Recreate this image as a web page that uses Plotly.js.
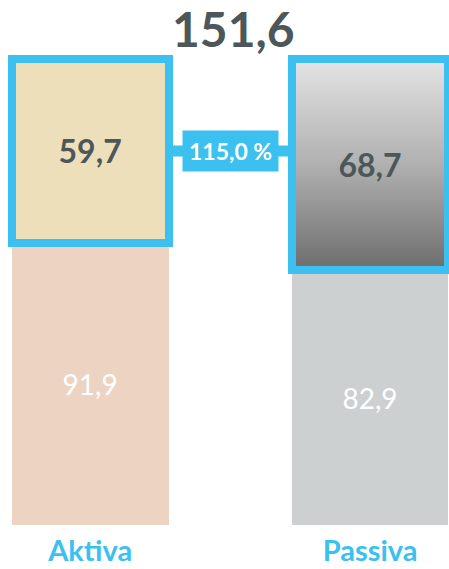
<!DOCTYPE html>
<html>
<head>
<meta charset="utf-8">
<script src="https://cdn.plot.ly/plotly-3.0.1.min.js"></script>
<style>html,body{margin:0;padding:0;background:#fff;}#chart{width:449px;height:569px;}</style>
</head>
<body>
<div id="chart"></div>
<script>
// ---- data ----
const categories = ["Aktiva", "Passiva"];
const bottomValues = [91.9, 82.9];
const topValues = [59.7, 68.7];
const totalLabel = 151.6;
const ratioLabel = "115,0 %";

// ---- styles ----
const blue = "#3BC0EF";
const dark = "#4D5759";
const bottomColors = ["#EDD3C1", "#CCD0D1"];
const topColors = ["#EDDFB9", "rgba(0,0,0,0)"];
const barWidth = 0.56;
const font = "Lato, 'Open Sans', sans-serif";

const xs = categories.map((c, i) => i);
const total = bottomValues[0] + topValues[0];

const gradSvg = '<svg xmlns="http://www.w3.org/2000/svg" width="10" height="100" preserveAspectRatio="none">' +
  '<defs><linearGradient id="g" x1="0" y1="0" x2="0" y2="1">' +
  '<stop offset="0" stop-color="#E4E4E4"/><stop offset="0.5" stop-color="#B0B0B0"/><stop offset="1" stop-color="#6D6D6D"/>' +
  '</linearGradient></defs><rect width="10" height="100" fill="url(#g)"/></svg>';
const gradUri = "data:image/svg+xml;base64," + btoa(gradSvg);

const traces = [
  {
    type: "bar", x: xs, y: bottomValues, width: barWidth,
    marker: {color: bottomColors, line: {width: 0}},
    texttemplate: "%{y:.1f}", textposition: "inside", insidetextanchor: "middle",
    textfont: {family: font, size: 28, color: "#FFFFFF"},
    hoverinfo: "none"
  },
  {
    type: "bar", x: xs, y: topValues, width: barWidth,
    marker: {color: topColors, line: {width: 8, color: blue}},
    texttemplate: "<b>%{y:.1f}</b>", textposition: "inside", insidetextanchor: "middle",
    textfont: {family: font, size: 32, color: dark},
    hoverinfo: "none"
  }
];

const connY = bottomValues[0] + topValues[0] / 2;

const layout = {
  width: 449, height: 569,
  margin: {l: 0, r: 0, t: 55, b: 44, pad: 0},
  paper_bgcolor: "#FFFFFF", plot_bgcolor: "#FFFFFF",
  barmode: "stack",
  separators: ",.",
  showlegend: false,
  xaxis: {
    range: [-0.322, 1.282], tickmode: "array", tickvals: xs, ticktext: categories,
    showgrid: false, zeroline: false, showline: false, ticks: "",
    tickfont: {family: font, size: 29, color: blue, weight: "bold"},
    ticklabelstandoff: 6, fixedrange: true
  },
  yaxis: {
    range: [0, 153], visible: false, showgrid: false, zeroline: false, fixedrange: true
  },
  images: [{
    source: gradUri, xref: "x", yref: "y",
    x: xs[1] - barWidth / 2, y: total, sizex: barWidth, sizey: topValues[1],
    xanchor: "left", yanchor: "top", sizing: "stretch", layer: "below"
  }],
  shapes: [{
    type: "line", xref: "x", yref: "y",
    x0: xs[0] + barWidth / 2, x1: xs[1] - barWidth / 2, y0: connY, y1: connY,
    line: {color: blue, width: 11}, layer: "above"
  }],
  annotations: [
    {
      xref: "x", yref: "y", x: 0.5, y: connY, showarrow: false,
      text: "<b>" + ratioLabel + "</b>", bgcolor: blue, borderpad: 6,
      font: {family: font, size: 23, color: "#FFFFFF"}
    },
    {
      xref: "x", yref: "y", x: 0.5, y: total, showarrow: false, yanchor: "middle",
      yshift: 31, xshift: 3,
      text: "<b>" + String(totalLabel).replace(".", ",") + "</b>",
      font: {family: font, size: 48, color: dark}
    }
  ]
};

Plotly.newPlot("chart", traces, layout, {displayModeBar: false, staticPlot: true});
</script>
</body>
</html>
